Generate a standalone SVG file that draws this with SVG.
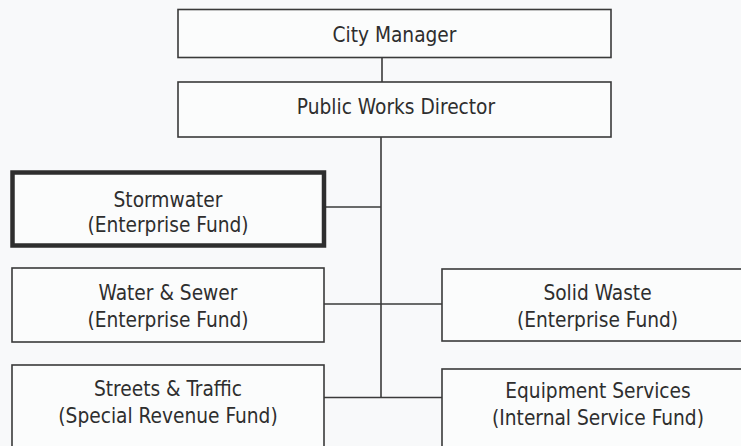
<svg xmlns="http://www.w3.org/2000/svg" width="741" height="446" viewBox="0 0 741 446">
  <style>
    .box { fill: #fbfcfc; stroke: #3a3a3a; stroke-width: 1.6; }
    .thick { fill: #fbfcfc; stroke: #2e2e2e; stroke-width: 4.5; }
    .lbl { font-family: "DejaVu Sans Condensed", "DejaVu Sans", Verdana, sans-serif; font-stretch: condensed; font-size: 20.7px; fill: #2e2e2e; text-anchor: middle; }
    .conn { stroke: #3a3a3a; stroke-width: 1.6; fill: none; }
  </style>
  <rect x="0" y="0" width="741" height="446" fill="#f8f9fa"/>
  <g id="connectors">
    <line class="conn" x1="382" y1="58" x2="382" y2="82"/>
    <line class="conn" x1="381" y1="137" x2="381" y2="398"/>
    <line class="conn" x1="326" y1="207" x2="381" y2="207"/>
    <line class="conn" x1="324" y1="304" x2="442" y2="304"/>
    <line class="conn" x1="324" y1="397.5" x2="442" y2="397.5"/>
  </g>
  <g id="city-manager">
    <rect class="box" x="178" y="9.5" width="433" height="48"/>
    <text class="lbl" x="394.5" y="42">City Manager</text>
  </g>
  <g id="public-works-director">
    <rect class="box" x="178" y="82" width="433" height="55"/>
    <text class="lbl" x="396" y="113.5">Public Works Director</text>
  </g>
  <g id="stormwater">
    <rect class="thick" x="12.5" y="172.5" width="311.5" height="73"/>
    <text class="lbl" x="168" y="206.5">Stormwater</text>
    <text class="lbl" x="168" y="232">(Enterprise Fund)</text>
  </g>
  <g id="water-sewer">
    <rect class="box" x="12" y="268" width="312" height="74"/>
    <text class="lbl" x="168" y="300">Water &amp; Sewer</text>
    <text class="lbl" x="168" y="327">(Enterprise Fund)</text>
  </g>
  <g id="streets-traffic">
    <rect class="box" x="12" y="365" width="312" height="90"/>
    <text class="lbl" x="168" y="396">Streets &amp; Traffic</text>
    <text class="lbl" x="168" y="423">(Special Revenue Fund)</text>
  </g>
  <g id="solid-waste">
    <rect class="box" x="442" y="269" width="312" height="72"/>
    <text class="lbl" x="597.5" y="300">Solid Waste</text>
    <text class="lbl" x="597.5" y="327">(Enterprise Fund)</text>
  </g>
  <g id="equipment-services">
    <rect class="box" x="442" y="369" width="312" height="90"/>
    <text class="lbl" x="598" y="398">Equipment Services</text>
    <text class="lbl" x="598" y="425">(Internal Service Fund)</text>
  </g>
</svg>
